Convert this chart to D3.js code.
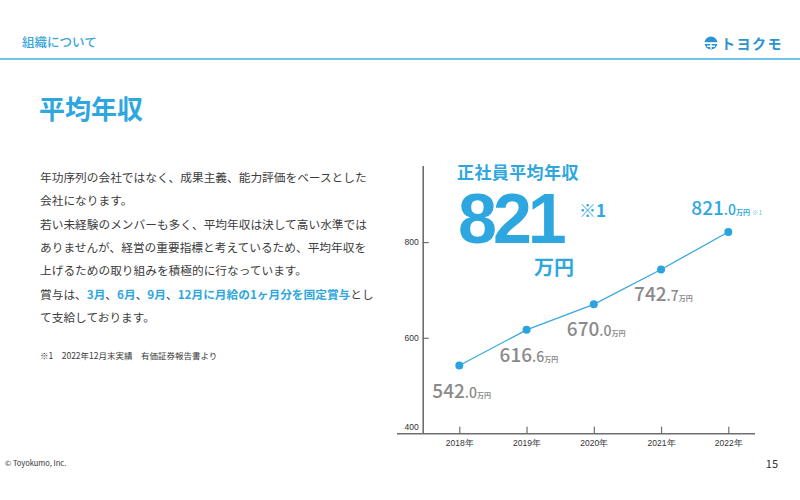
<!DOCTYPE html>
<html>
<head>
<meta charset="utf-8">
<script src="https://cdn.jsdelivr.net/npm/d3@7"></script>
<style>
  body { margin: 0; background: #fff; }
  svg { display: block; font-family: 'Noto Sans CJK JP', 'Noto Sans', sans-serif; }
</style>
</head>
<body>
<div id="chart"></div>
<script>
const width = 800;
const height = 500;

const blue = '#2ea7e0';
const gray = '#8a8a8a';
const textColor = '#3c3c3c';

// data
const years = ['2018年', '2019年', '2020年', '2021年', '2022年'];
const salaries = [542.0, 616.6, 670.0, 742.7, 821.0];
const yTicks = [400, 600, 800];

const bodyLines = [
  [['年功序列の会社ではなく、成果主義、能力評価をベースとした', false]],
  [['会社になります。', false]],
  [['若い未経験のメンバーも多く、平均年収は決して高い水準では', false]],
  [['ありませんが、経営の重要指標と考えているため、平均年収を', false]],
  [['上げるための取り組みを積極的に行なっています。', false]],
  [['賞与は、', false], ['3月', true], ['、', false], ['6月', true], ['、', false], ['9月', true], ['、', false], ['12月に月給の1ヶ月分を固定賞与', true], ['とし', false]],
  [['て支給しております。', false]],
];

const svg = d3.select('#chart')
  .append('svg')
  .attr('width', width)
  .attr('height', height);

// header
svg.append('text')
  .attr('x', 22).attr('y', 47)
  .attr('font-size', 12.5).attr('font-weight', 500)
  .attr('fill', '#3aa6d8')
  .text('組織について');

svg.append('line')
  .attr('x1', 0).attr('x2', width)
  .attr('y1', 59).attr('y2', 59)
  .attr('stroke', '#74c3ea').attr('stroke-width', 1.8);

// logo
const logo = svg.append('g').attr('transform', 'translate(711,43)');
logo.append('circle').attr('r', 6.5).attr('fill', '#2b93cf');
logo.append('rect').attr('x', -7).attr('y', -0.8).attr('width', 14).attr('height', 1.8).attr('fill', '#fff');
logo.append('path').attr('d', 'M-4,3.2 H4 M0,1 V6').attr('stroke', '#fff').attr('stroke-width', 1.4);
svg.append('text')
  .attr('x', 721).attr('y', 49)
  .attr('font-size', 14).attr('font-weight', 700)
  .attr('letter-spacing', 1.5)
  .attr('fill', '#2b93cf')
  .text('トヨクモ');

// title
svg.append('text')
  .attr('x', 39).attr('y', 119)
  .attr('font-size', 26).attr('font-weight', 700)
  .attr('fill', blue)
  .text('平均年収');

// body text
const body = svg.append('g').attr('font-size', 11.7).attr('fill', textColor);
bodyLines.forEach((parts, i) => {
  const t = body.append('text')
    .attr('x', 40)
    .attr('y', 182 + i * 23.3);
  parts.forEach(([s, hl]) => {
    t.append('tspan')
      .attr('fill', hl ? blue : textColor)
      .attr('font-weight', hl ? 700 : 400)
      .text(s);
  });
});

svg.append('text')
  .attr('x', 40).attr('y', 359)
  .attr('font-size', 8.5).attr('fill', textColor)
  .attr('xml:space', 'preserve')
  .text('※1　2022年12月末実績　有価証券報告書より');

// chart
const xScale = d3.scalePoint()
  .domain(years)
  .range([459.3, 728.3]);

const yScale = d3.scaleLinear()
  .domain([400, 960])
  .range([433.5, 165.5]);

const axisColor = '#6e6e6e';

const yAxis = d3.axisLeft(yScale)
  .tickValues(yTicks)
  .tickSizeInner(-6)
  .tickSizeOuter(0)
  .tickPadding(4);

const yAxisG = svg.append('g')
  .attr('transform', 'translate(422.7,0)')
  .call(yAxis);
yAxisG.select('.domain').attr('stroke', axisColor).attr('stroke-width', 1.6);
yAxisG.selectAll('.tick line').attr('stroke', axisColor).attr('stroke-width', 1.2);
yAxisG.selectAll('.tick text')
  .attr('font-size', 8.5).attr('fill', '#333')
  .attr('font-family', "'Liberation Sans', sans-serif");
yAxisG.selectAll('.tick').filter((d) => d === 400)
  .select('text').attr('dy', '-0.5em');
yAxisG.selectAll('.tick').filter((d) => d === 400)
  .select('line').remove();

const xAxis = d3.axisBottom(xScale)
  .tickSizeInner(-7)
  .tickSizeOuter(0)
  .tickPadding(6);

const xAxisG = svg.append('g')
  .attr('transform', 'translate(0,433.7)')
  .call(xAxis);
xAxisG.select('.domain').remove();
xAxisG.selectAll('.tick line').attr('stroke', axisColor).attr('stroke-width', 1.2);
xAxisG.selectAll('.tick text')
  .attr('font-size', 8.5).attr('fill', '#333');

svg.append('line')
  .attr('x1', 397).attr('x2', 755)
  .attr('y1', 433.7).attr('y2', 433.7)
  .attr('stroke', axisColor).attr('stroke-width', 1.6);

// line + points
const pts = years.map((y, i) => ({ year: y, value: salaries[i] }));

svg.append('path')
  .datum(pts)
  .attr('fill', 'none')
  .attr('stroke', '#3aa8dd')
  .attr('stroke-width', 1.3)
  .attr('d', d3.line().x((d) => xScale(d.year)).y((d) => yScale(d.value)));

svg.append('g')
  .selectAll('circle')
  .data(pts)
  .enter()
  .append('circle')
  .attr('cx', (d) => xScale(d.year))
  .attr('cy', (d) => yScale(d.value))
  .attr('r', 4)
  .attr('fill', '#2aa3de');

// value labels
const last = pts.length - 1;
const labels = svg.append('g')
  .selectAll('text')
  .data(pts)
  .enter()
  .append('text')
  .attr('x', (d, i) => xScale(d.year) + (i === last ? -37 : -27))
  .attr('y', (d, i) => yScale(d.value) + (i === last ? -17 : 32))
  .attr('fill', (d, i) => (i === last ? blue : gray))
  .attr('font-weight', 500);

labels.append('tspan')
  .attr('font-size', 19)
  .text((d) => d3.format('.1f')(d.value).split('.')[0]);
labels.append('tspan')
  .attr('font-size', 14)
  .text((d) => '.' + d3.format('.1f')(d.value).split('.')[1]);
labels.append('tspan')
  .attr('font-size', 7)
  .attr('font-weight', 700)
  .text('万円');
labels.filter((d, i) => i === last)
  .append('tspan')
  .attr('font-size', 6.5)
  .attr('dx', 2)
  .attr('fill', '#8cc9ea')
  .text('※1');

// headline
svg.append('text')
  .attr('x', 457).attr('y', 179)
  .attr('font-size', 17).attr('font-weight', 700)
  .attr('letter-spacing', 0.4)
  .attr('fill', blue)
  .text('正社員平均年収');

svg.append('text')
  .attr('x', 458).attr('y', 243)
  .attr('font-size', 70).attr('font-weight', 700)
  .attr('letter-spacing', -4)
  .attr('fill', blue)
  .attr('font-family', "'Liberation Sans', sans-serif")
  .text(d3.format('.0f')(salaries[last]));

svg.append('text')
  .attr('x', 579).attr('y', 217)
  .attr('font-size', 17).attr('font-weight', 700)
  .attr('fill', blue)
  .text('※1');

svg.append('text')
  .attr('x', 534).attr('y', 275)
  .attr('font-size', 20).attr('font-weight', 700)
  .attr('fill', blue)
  .text('万円');

// footer
svg.append('text')
  .attr('x', 5).attr('y', 466)
  .attr('font-size', 7.5).attr('fill', '#333')
  .text('© Toyokumo, Inc.');

svg.append('text')
  .attr('x', 778).attr('y', 468)
  .attr('text-anchor', 'end')
  .attr('font-size', 11).attr('fill', '#333')
  .text('15');
</script>
</body>
</html>
